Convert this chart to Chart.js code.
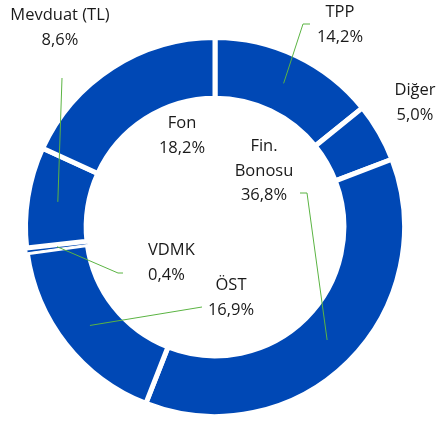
<!DOCTYPE html>
<html>
<head>
<meta charset="utf-8">
<script src="https://cdn.jsdelivr.net/npm/chart.js@4.4.1/dist/chart.umd.min.js"></script>
<style>
  html, body { margin: 0; padding: 0; background: #fff; }
  #wrap { width: 438px; height: 421px; }
</style>
</head>
<body>
<div id="wrap"><canvas id="grafico"></canvas></div>
<script>
// Datos del gráfico
const categorias = ['TPP', 'Diğer', 'Fin. Bonosu', 'ÖST', 'VDMK', 'Mevduat (TL)', 'Fon'];
const valores = [14.2, 5.0, 36.8, 16.9, 0.4, 8.6, 18.2];
// Texto de cada etiqueta (líneas)
const lineasEtiqueta = [['TPP'], ['Diğer'], ['Fin.', 'Bonosu'], ['ÖST'], ['VDMK'], ['Mevduat (TL)'], ['Fon']];

// Posición de las etiquetas respecto al centro (px) y si llevan línea guía
const posEtiquetas = [
  { dx: 125, dy: -202, align: 'center', guia: [[95, -203], [88, -203]] },
  { dx: 200, dy: -124, align: 'center', guia: null },
  { dx: 49, dy: -56, align: 'center', guia: [[85, -34], [92, -34]] },
  { dx: 16, dy: 71, align: 'center', guia: [[-13, 80]] },
  { dx: -67, dy: 36, align: 'left', guia: [[-92, 46], [-97, 46]] },
  { dx: -155, dy: -199, align: 'center', guia: [[-153, -149]] },
  { dx: -33, dy: -91, align: 'center', guia: null }
];

const AZUL = '#0048B5';
const VERDE = '#5BB443';
const FUENTE = '16.5px "Open Sans"';

function formatear(v) {
  return v.toFixed(1).replace('.', ',') + '%';
}

// Plugin para dibujar etiquetas y líneas guía
const etiquetasPlugin = {
  id: 'etiquetas',
  afterDatasetsDraw(chart) {
    const ctx = chart.ctx;
    const meta = chart.getDatasetMeta(0);
    const arc0 = meta.data[0];
    const cx = arc0.x, cy = arc0.y;
    ctx.save();
    meta.data.forEach((arc, i) => {
      const p = posEtiquetas[i];
      // línea guía
      if (p.guia) {
        const fin = arc.tooltipPosition();
        ctx.beginPath();
        ctx.strokeStyle = VERDE;
        ctx.lineWidth = 1;
        ctx.moveTo(cx + p.guia[0][0], cy + p.guia[0][1]);
        for (let k = 1; k < p.guia.length; k++) {
          ctx.lineTo(cx + p.guia[k][0], cy + p.guia[k][1]);
        }
        ctx.lineTo(fin.x, fin.y);
        ctx.stroke();
      }
      // texto
      const lineas = lineasEtiqueta[i].concat([formatear(valores[i])]);
      ctx.fillStyle = '#1a1a1a';
      ctx.font = FUENTE;
      ctx.textAlign = p.align;
      ctx.textBaseline = 'middle';
      const inicio = cy + p.dy - (lineas.length - 1) * 24.5 / 2;
      lineas.forEach((t, j) => {
        ctx.fillText(t, cx + p.dx, inicio + j * 24.5);
      });
    });
    ctx.restore();
  }
};

const ctx = document.getElementById('grafico');
new Chart(ctx, {
  type: 'doughnut',
  data: {
    labels: categorias,
    datasets: [{
      data: valores,
      backgroundColor: AZUL,
      borderColor: '#ffffff',
      borderWidth: [5, 5, 5, 5, 1, 5, 5],
      hoverOffset: 0
    }]
  },
  options: {
    responsive: true,
    maintainAspectRatio: false,
    animation: false,
    cutout: '68%',
    rotation: 0,
    layout: {
      padding: { top: 35, bottom: 2, left: 0, right: 8 }
    },
    plugins: {
      legend: { display: false },
      tooltip: { enabled: false }
    }
  },
  plugins: [etiquetasPlugin]
});
</script>
</body>
</html>
